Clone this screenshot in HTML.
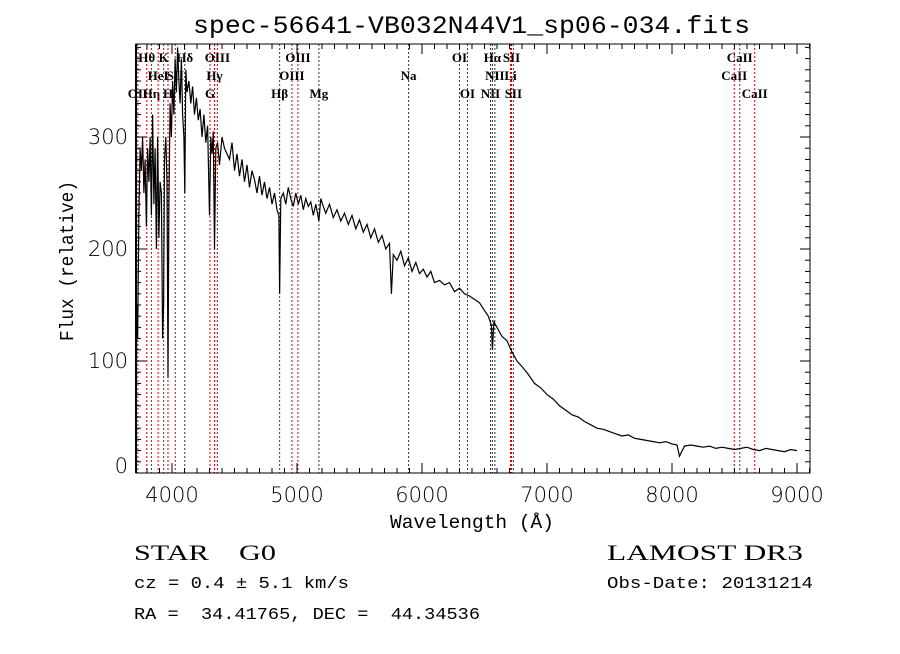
<!DOCTYPE html>
<html><head><meta charset="utf-8"><style>
body{margin:0;background:#fff;}
svg text{font-family:"Liberation Serif",serif;white-space:pre;}
</style></head><body>
<svg id="c" width="900" height="649" xmlns="http://www.w3.org/2000/svg">
<rect width="900" height="649" fill="#fff"/>
<text x="193" y="33" font-size="25" textLength="557" lengthAdjust="spacingAndGlyphs" style="font-family:'Liberation Mono',monospace">spec-56641-VB032N44V1_sp06-034.fits</text>
<g id="lines"></g>
<path id="spec" fill="none" stroke="#000" stroke-width="1.2"/>
<g id="axes"></g>
<text x="390" y="528" font-size="19" textLength="164" lengthAdjust="spacingAndGlyphs" style="font-family:'Liberation Mono',monospace">Wavelength (Å)</text>
<text transform="translate(73,341) rotate(-90)" font-size="19" textLength="160" lengthAdjust="spacingAndGlyphs" style="font-family:'Liberation Mono',monospace">Flux (relative)</text>
<text x="134" y="560" font-size="22" textLength="142" lengthAdjust="spacingAndGlyphs">STAR    G0</text>
<text x="134" y="588" font-size="17" textLength="215" lengthAdjust="spacingAndGlyphs" style="font-family:'Liberation Mono',monospace">cz = 0.4 ± 5.1 km/s</text>
<text x="134" y="619" font-size="17" textLength="346" lengthAdjust="spacingAndGlyphs" style="font-family:'Liberation Mono',monospace">RA =  34.41765, DEC =  44.34536</text>
<text x="607" y="560" font-size="22" textLength="196" lengthAdjust="spacingAndGlyphs">LAMOST DR3</text>
<text x="607" y="588" font-size="17" textLength="206" lengthAdjust="spacingAndGlyphs" style="font-family:'Liberation Mono',monospace">Obs-Date: 20131214</text>
</svg>
<script>
const wave=[3712,3718,3725,3735,3745,3755,3765,3775,3785,3795,3805,3815,3825,3835,3845,3855,3865,3875,3885,3895,3905,3915,3925,3933,3940,3950,3960,3968,3975,3985,3995,4005,4015,4025,4035,4045,4055,4065,4075,4085,4095,4102,4110,4120,4135,4150,4165,4180,4195,4210,4225,4240,4255,4270,4285,4300,4310,4320,4330,4340,4350,4365,4380,4400,4420,4440,4460,4480,4500,4520,4540,4560,4580,4600,4620,4640,4660,4680,4700,4720,4740,4760,4780,4800,4820,4840,4855,4861,4870,4890,4910,4930,4950,4970,4990,5010,5030,5050,5070,5090,5110,5130,5150,5175,5190,5210,5230,5260,5290,5320,5350,5380,5410,5440,5470,5500,5530,5560,5590,5620,5650,5680,5710,5740,5755,5770,5800,5830,5860,5890,5920,5950,5980,6010,6040,6070,6100,6140,6180,6220,6260,6300,6340,6380,6420,6460,6500,6530,6555,6563,6575,6600,6640,6680,6720,6760,6800,6850,6900,6950,7000,7050,7100,7150,7200,7250,7300,7350,7400,7450,7500,7550,7600,7650,7700,7750,7800,7850,7900,7950,8000,8040,8060,8100,8150,8200,8250,8300,8350,8400,8450,8500,8550,8600,8650,8700,8750,8800,8850,8900,8950,9000];
const flux=[10,150,120,230,290,270,300,250,280,220,290,260,300,230,320,240,290,200,300,210,260,250,120,150,280,300,260,85,240,330,300,350,320,370,340,380,350,330,370,320,300,250,360,340,350,330,345,320,335,315,325,300,320,295,310,230,300,285,305,200,290,295,275,300,290,285,280,295,270,285,265,280,260,275,255,270,262,250,265,248,260,245,255,240,250,235,230,160,245,250,240,255,245,238,250,240,248,235,245,238,242,230,240,225,245,238,232,240,228,235,225,232,222,230,218,226,215,222,210,218,206,212,200,205,160,195,190,198,185,192,180,188,178,182,175,180,170,172,168,170,162,165,160,158,155,152,145,140,132,110,135,130,122,118,108,100,95,88,80,76,70,66,60,56,52,50,46,43,40,39,37,35,33,34,31,30,29,28,27,28,26,25,15,24,25,24,23,24,22,23,22,21,22,23,21,20,22,21,20,19,21,20,19,18];
const lineW=[3727,3798,3835,3889,3933,3968,4026,4102,4304,4340,4363,4861,4959,5007,5175,5893,6300,6364,6548,6563,6583,6708,6716,6731,8498,8542,8662];
const lineLab=["OII","Hθ","Hη","HeI","K","H","SII","Hδ","G","Hγ","OIII","Hβ","OIII","OIII","Mg","Na","OI","OI","NII","Hα","NII","Li","SII","SII","CaII","CaII","CaII"];
const lineRow=[2,0,2,1,0,2,1,0,2,1,0,2,1,0,2,1,0,2,2,0,1,1,0,2,1,0,2];
const lineRed=[1,1,1,1,1,1,1,0,1,1,1,1,1,1,0,0,1,1,0,0,0,1,1,1,1,1,1];
const xTicks=[4000,5000,6000,7000,8000,9000];
const yTicks=[0,100,200,300];
const X0=136,X1=810,Y0=44,Y1=473;
const xs=w=>172+(w-4000)*0.125;
const ys=f=>473-f*1.12;
const NS="http://www.w3.org/2000/svg";
function mk(t,a,p){const e=document.createElementNS(NS,t);for(const k in a)e.setAttribute(k,a[k]);p.appendChild(e);return e;}
const L=document.getElementById('lines');
lineW.forEach((w,i)=>{
 const x=xs(w);
 const ln=mk('line',{x1:x,x2:x,y1:Y0,y2:Y1,stroke:lineRed[i]?'#c00':'#333','stroke-width':1,'stroke-dasharray':'2,2'},L);
 
 
 const t=mk('text',{x:x,y:62+lineRow[i]*18,'font-size':13,'font-weight':'bold','text-anchor':'middle'},L);
 t.textContent=lineLab[i];
 
 
});
let d='';
wave.forEach((w,i)=>{d+=(i?'L':'M')+xs(w).toFixed(1)+','+Math.max(Y0,ys(flux[i])).toFixed(1);});
document.getElementById('spec').setAttribute('d',d);
const A=document.getElementById('axes');
const fr=mk('rect',{x:X0,y:Y0,width:X1-X0,height:Y1-Y0,fill:'none',stroke:'#000','stroke-width':1},A);


mk('line',{x1:X0,x2:X0,y1:Y0,y2:Y1,stroke:'#000','stroke-width':2},A);
for(let w=3800;w<=9100;w+=100){const x=xs(w);const maj=w%1000===0;const h=maj?10:5;
 mk('line',{x1:x,x2:x,y1:Y1,y2:Y1-h,stroke:'#000'},A);mk('line',{x1:x,x2:x,y1:Y0,y2:Y0+h,stroke:'#000'},A);}
for(let f=0;f<=380;f+=10){const y=ys(f);const maj=f%100===0;const h=maj?10:5;
 mk('line',{x1:X0,x2:X0+h,y1:y,y2:y,stroke:'#000'},A);mk('line',{x1:X1,x2:X1-h,y1:y,y2:y,stroke:'#000'},A);}
xTicks.forEach(w=>{const t=mk('text',{x:xs(w),y:502,'font-size':21,'text-anchor':'middle',style:"font-family:'DejaVu Sans',sans-serif;font-weight:200"},A);t.textContent=w;
 });
yTicks.forEach(f=>{const t=mk('text',{x:128,y:ys(f)+(f===0?0:7),'font-size':21,'text-anchor':'end',style:"font-family:'DejaVu Sans',sans-serif;font-weight:200"},A);t.textContent=f;
 });
</script>
</body></html>
